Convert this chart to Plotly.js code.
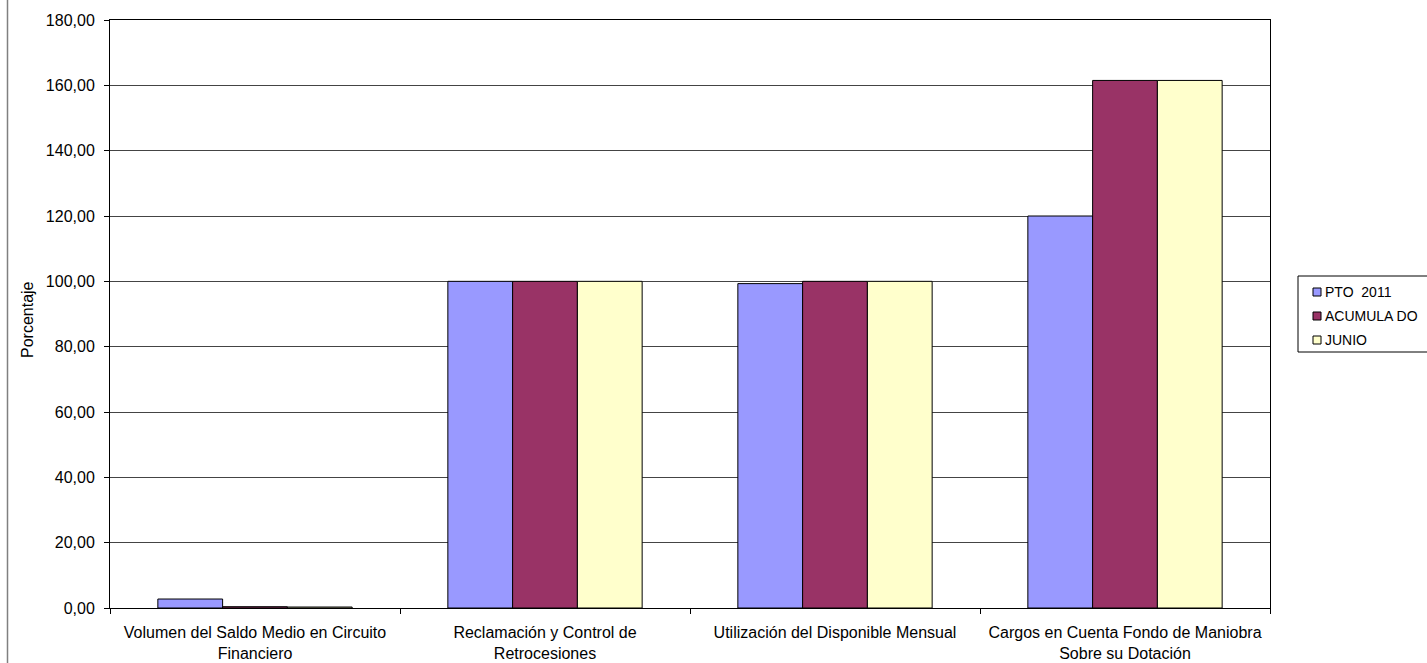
<!DOCTYPE html>
<html><head><meta charset="utf-8">
<script src="https://cdn.plot.ly/plotly-3.0.1.min.js"></script>
<style>html,body{margin:0;padding:0;background:#fff;}#chart{width:1427px;height:663px;}</style>
</head><body><div id="chart"></div>
<script>
var categories = [
  "Volumen del Saldo Medio en Circuito<br>Financiero",
  "Reclamación y Control de<br>Retrocesiones",
  "Utilización del Disponible Mensual",
  "Cargos en Cuenta Fondo de Maniobra<br>Sobre su Dotación"
];
var seriesNames = ["PTO  2011", "ACUMULA DO", "JUNIO"];
var pto2011 = [2.75, 100.0, 99.3, 120.0];
var acumulado = [0.4, 100.0, 100.0, 161.5];
var junio = [0.3, 100.0, 100.0, 161.5];
var colors = ["#9999FF", "#993366", "#FFFFCC"];
var values = [pto2011, acumulado, junio];

var W = 1427, H = 663, ML = 110, MR = 157, MT = 20, MB = 55;
var PW = W - ML - MR, PH = H - MT - MB;
function px(x){ return (x - ML) / PW; }
function py(y){ return (H - MB - y) / PH; }

var traces = values.map(function(v, i){
  return {type:"bar", x:categories, y:v, name:seriesNames[i], showlegend:false,
    marker:{color:colors[i], line:{color:"#000", width:1}}};
});
var font = {family:"Liberation Sans, Arial, sans-serif", color:"#000"};

var shapes = [
  {type:"line", xref:"paper", yref:"paper", x0:px(7.5), x1:px(7.5),
    y0:py(H+5), y1:py(-5), line:{color:"#808080", width:1.5}},
  {type:"rect", xref:"paper", yref:"paper", x0:px(1298), x1:px(1440),
    y0:py(352), y1:py(276), line:{color:"#000", width:1}, fillcolor:"rgba(0,0,0,0)"}
];
var annotations = [];
var rowY = [292, 316, 340];
seriesNames.forEach(function(n, i){
  shapes.push({type:"rect", xref:"paper", yref:"paper", x0:px(1313), x1:px(1321),
    y0:py(rowY[i]+4), y1:py(rowY[i]-4), line:{color:"#000", width:1}, fillcolor:colors[i]});
  annotations.push({xref:"paper", yref:"paper", x:px(1323), y:py(rowY[i]),
    xanchor:"left", yanchor:"middle", showarrow:false, text:n,
    font:{size:14, family:font.family, color:"#000"}});
});
annotations.push({xref:"paper", yref:"paper", x:px(27), y:py(320), textangle:-90,
  xanchor:"center", yanchor:"middle", showarrow:false, text:"Porcentaje",
  font:{size:16, family:font.family, color:"#000"}});

var layout = {
  width:W, height:H,
  margin:{l:ML, r:MR, t:MT, b:MB},
  paper_bgcolor:"#fff", plot_bgcolor:"#fff",
  font:font,
  separators:",.",
  barmode:"group", bargap:0.33, bargroupgap:0,
  showlegend:false,
  xaxis:{type:"category", tickson:"boundaries", ticks:"outside", ticklen:5,
    tickcolor:"#000", showline:true, linecolor:"#000", linewidth:1, mirror:true,
    showgrid:false, tickfont:{size:16}, ticklabelstandoff:10, automargin:false},
  yaxis:{range:[0,180], dtick:20, tick0:0, tickformat:".2f", ticks:"outside",
    ticklen:5, tickcolor:"#000", showline:true, linecolor:"#000", linewidth:1,
    mirror:true, showgrid:true, gridcolor:"#444", gridwidth:1, zeroline:false,
    tickfont:{size:16}, ticklabelstandoff:6, automargin:false},
  shapes:shapes,
  annotations:annotations
};
Plotly.newPlot("chart", traces, layout, {displayModeBar:false, staticPlot:true});
</script></body></html>
